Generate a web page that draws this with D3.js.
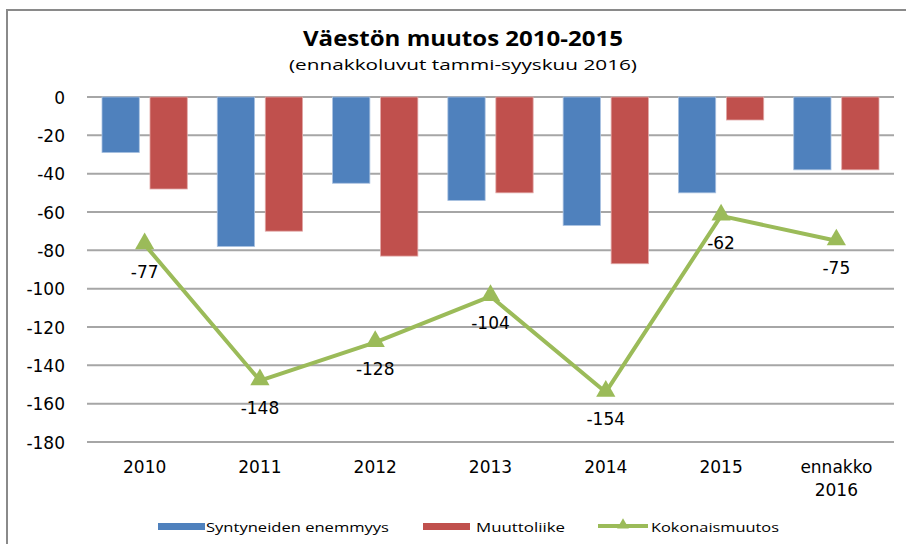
<!DOCTYPE html>
<html>
<head>
<meta charset="utf-8">
<script src="https://cdn.jsdelivr.net/npm/d3@7"></script>
<style>
	body { margin: 0; background: #fff; }
	svg { display: block; }
</style>
</head>
<body>
<div id="chart"></div>
<script>
// data
var categories = ['2010', '2011', '2012', '2013', '2014', '2015', 'ennakko 2016'];
var syntyneet = [-29, -78, -45, -54, -67, -50, -38];
var muuttoliike = [-48, -70, -83, -50, -87, -12, -38];
var kokonais = [-77, -148, -128, -104, -154, -62, -75];
var yTicks = [0, -20, -40, -60, -80, -100, -120, -140, -160, -180];
var seriesNames = ['Syntyneiden enemmyys', 'Muuttoliike', 'Kokonaismuutos'];

var width = 906, height = 544;
var blue = '#4F81BD', red = '#C0504D', green = '#9BBB59';
var numFont = '"DejaVu Sans", Verdana, sans-serif';
var txtFont = '"Open Sans", "DejaVu Sans", sans-serif';

var svg = d3.select('#chart').append('svg')
	.attr('width', width)
	.attr('height', height);

// outer chart border (runs off the picture on the right and bottom)
svg.append('rect')
	.attr('x', 7).attr('y', 10)
	.attr('width', width + 20).attr('height', height + 20)
	.attr('fill', 'none')
	.attr('stroke', '#8a8a8a')
	.attr('stroke-width', 2);

// titles
svg.append('text')
	.attr('x', 463).attr('y', 46)
	.attr('text-anchor', 'middle')
	.attr('font-family', txtFont)
	.attr('font-weight', 'bold')
	.attr('font-size', 22)
	.attr('textLength', 320)
	.attr('lengthAdjust', 'spacingAndGlyphs')
	.text('Väestön muutos 2010-2015');
svg.append('text')
	.attr('x', 463).attr('y', 70)
	.attr('text-anchor', 'middle')
	.attr('font-family', txtFont)
	.attr('font-size', 15)
	.attr('textLength', 348)
	.attr('lengthAdjust', 'spacingAndGlyphs')
	.text('(ennakkoluvut tammi-syyskuu 2016)');

// scales
var x = d3.scaleBand()
	.domain(categories)
	.range([87, 894]);
var xInner = d3.scaleBand()
	.domain([0, 1])
	.range([15, x.bandwidth() - 15])
	.paddingInner(0.223);
var y = d3.scaleLinear()
	.domain([0, -180])
	.range([97, 442]);

// gridlines
svg.append('g')
	.selectAll('line')
	.data(yTicks)
	.enter().append('line')
	.attr('x1', 87).attr('x2', 894)
	.attr('y1', function(d){ return y(d); })
	.attr('y2', function(d){ return y(d); })
	.attr('stroke', '#a6a6a6')
	.attr('stroke-width', 2);

// y axis labels (plain hyphen as in the original)
var yAxis = svg.append('g')
	.attr('transform', 'translate(65,0)')
	.call(d3.axisLeft(y).tickValues(yTicks).tickSize(0).tickPadding(0).tickFormat(function(d){ return String(d); }));
yAxis.select('.domain').remove();
yAxis.selectAll('text')
	.attr('font-family', numFont)
	.attr('font-size', 17)
	.attr('fill', '#000')
	.attr('dy', '0.36em');

// bars
var bars = svg.append('g');
[syntyneet, muuttoliike].forEach(function(values, si){
	bars.selectAll('rect.s' + si)
		.data(values)
		.enter().append('rect')
		.attr('class', 's' + si)
		.attr('x', function(d, i){ return x(categories[i]) + xInner(si); })
		.attr('y', y(0))
		.attr('width', xInner.bandwidth())
		.attr('height', function(d){ return y(d) - y(0); })
		.attr('fill', si == 0 ? blue : red)
		.attr('stroke', si == 0 ? '#a9c1e0' : '#e2a9a7')
		.attr('stroke-width', 0.8);
});

// total change line
var cx = function(d, i){ return x(categories[i]) + x.bandwidth() / 2; };
var line = d3.line()
	.x(cx)
	.y(function(d){ return y(d); });
svg.append('path')
	.datum(kokonais)
	.attr('d', line)
	.attr('fill', 'none')
	.attr('stroke', green)
	.attr('stroke-width', 4)
	.attr('stroke-linejoin', 'round');

var tri = d3.symbol().type(d3.symbolTriangle).size(160);
svg.append('g')
	.selectAll('path')
	.data(kokonais)
	.enter().append('path')
	.attr('d', tri)
	.attr('transform', function(d, i){ return 'translate(' + cx(d, i) + ',' + (y(d) - 1) + ')'; })
	.attr('fill', green);

svg.append('g')
	.selectAll('text')
	.data(kokonais)
	.enter().append('text')
	.attr('x', cx)
	.attr('y', function(d){ return y(d) + 33; })
	.attr('text-anchor', 'middle')
	.attr('font-family', numFont)
	.attr('font-size', 17)
	.text(function(d){ return d; });

// category labels
var xLabels = svg.append('g')
	.selectAll('text')
	.data(categories)
	.enter().append('text')
	.attr('x', function(d){ return x(d) + x.bandwidth() / 2; })
	.attr('y', 473)
	.attr('text-anchor', 'middle')
	.attr('font-family', numFont)
	.attr('font-size', 17);
xLabels.each(function(d){
	var words = d.split(' ');
	var t = d3.select(this);
	words.forEach(function(w, k){
		t.append('tspan')
			.attr('x', t.attr('x'))
			.attr('dy', k == 0 ? 0 : 23)
			.text(w);
	});
});

// legend
var legend = svg.append('g');
var legItems = [
	{ name: seriesNames[0], color: blue, x: 158, tx: 206, len: 183 },
	{ name: seriesNames[1], color: red, x: 423, tx: 476, len: 89 },
	{ name: seriesNames[2], color: green, x: 598, tx: 651, len: 128 }
];
legItems.forEach(function(it, k){
	if(k < 2){
		legend.append('rect')
			.attr('x', it.x).attr('y', 523)
			.attr('width', 47).attr('height', 7)
			.attr('fill', it.color);
	} else {
		legend.append('line')
			.attr('x1', it.x).attr('x2', it.x + 50)
			.attr('y1', 526).attr('y2', 526)
			.attr('stroke', it.color)
			.attr('stroke-width', 4);
		legend.append('path')
			.attr('d', d3.symbol().type(d3.symbolTriangle).size(60))
			.attr('transform', 'translate(' + (it.x + 25) + ',525)')
			.attr('fill', it.color);
	}
	legend.append('text')
		.attr('x', it.tx).attr('y', 532)
		.attr('font-family', txtFont)
		.attr('font-size', 13.5)
		.attr('textLength', it.len)
		.attr('lengthAdjust', 'spacingAndGlyphs')
		.text(it.name);
});
</script>
</body>
</html>
